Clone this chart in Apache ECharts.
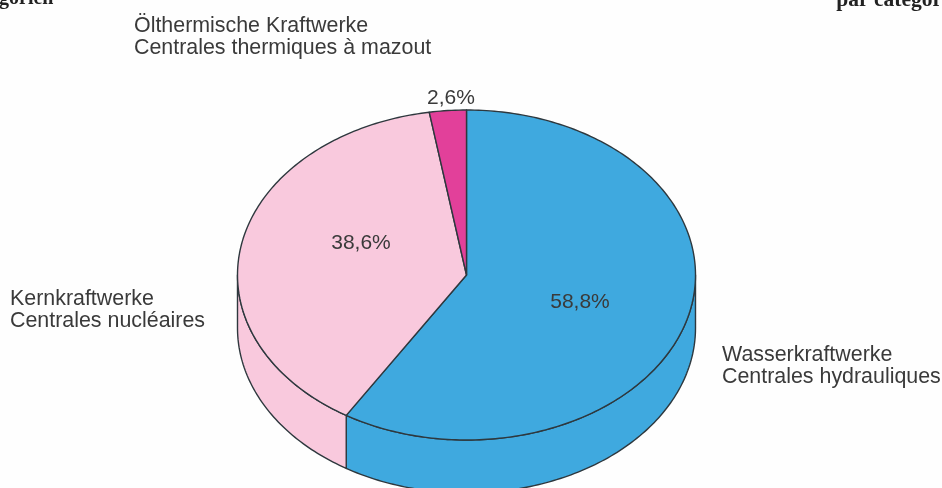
<!DOCTYPE html>
<html>
<head>
<meta charset="utf-8">
<title>Kraftwerke</title>
<script src="https://cdn.jsdelivr.net/npm/echarts@6/dist/echarts.min.js"></script>
<style>
    html, body { margin: 0; padding: 0; background: #fefefe; }
    #main { width: 942px; height: 488px; }
</style>
</head>
<body>
<div id="main"></div>
<script>
const namesDe = ['Wasserkraftwerke', 'Kernkraftwerke', 'Ölthermische Kraftwerke'];
const namesFr = ['Centrales hydrauliques', 'Centrales nucléaires', 'Centrales thermiques à mazout'];
const shares = [58.8, 38.6, 2.6];

const colors = ['#3fa9df', '#f9c9dd', '#e2409a'];
const lineColor = '#2e383e';
const textColor = '#3a3a3a';
const sansFont = '"Liberation Sans", Arial, sans-serif';

// flat disc geometry
const cx = 466.5;
const cy = 275;
const rx = 229;
const ry = 165;
const depth = 53;

const percentPos = [[580, 302], [361, 243], [451, 98]];
const namePos = [[722, 366], [10, 310], [134, 37]];

// angle is clockwise from 12 o'clock, in degrees
function rimPoint(angle, drop) {
    const a = angle * Math.PI / 180;
    return [cx + rx * Math.sin(a), cy - ry * Math.cos(a) + drop];
}

function arc(from, to, drop) {
    const pts = [];
    const steps = Math.max(2, Math.ceil(Math.abs(to - from)));
    for (let i = 0; i <= steps; i++) {
        pts.push(rimPoint(from + (to - from) * i / steps, drop));
    }
    return pts;
}

function renderSlice(params, api) {
    const i = params.dataIndex;
    let before = 0;
    for (let k = 0; k < i; k++) {
        before += shares[k];
    }
    const total = shares.reduce((a, b) => a + b, 0);
    const start = before / total * 360;
    const end = (before + api.value(0)) / total * 360;
    const sliceStyle = { fill: colors[i], stroke: lineColor, lineWidth: 1.4, lineJoin: 'round' };
    const children = [];

    // only the front half of the rim shows a wall
    const wallFrom = Math.max(start, 90);
    const wallTo = Math.min(end, 270);
    if (wallTo > wallFrom) {
        children.push({
            type: 'polygon',
            shape: { points: arc(wallFrom, wallTo, 0).concat(arc(wallTo, wallFrom, depth)) },
            style: sliceStyle
        });
    }

    children.push({
        type: 'polygon',
        shape: { points: [[cx, cy]].concat(arc(start, end, 0)) },
        style: sliceStyle
    });

    children.push({
        type: 'text',
        style: {
            x: percentPos[i][0],
            y: percentPos[i][1],
            text: api.value(0).toFixed(1).replace('.', ',') + '%',
            fill: textColor,
            font: '21px ' + sansFont,
            align: 'center',
            verticalAlign: 'middle'
        }
    });

    children.push({
        type: 'text',
        style: {
            x: namePos[i][0],
            y: namePos[i][1],
            text: namesDe[i] + '\n' + namesFr[i],
            fill: textColor,
            font: '21.4px ' + sansFont,
            lineHeight: 21.5,
            align: 'left',
            verticalAlign: 'middle'
        }
    });

    return { type: 'group', children: children };
}

const myChart = echarts.init(document.getElementById('main'));
myChart.setOption({
    animation: false,
    backgroundColor: '#fefefe',
    series: [{
        type: 'custom',
        coordinateSystem: 'none',
        renderItem: renderSlice,
        data: shares.map((v) => [v]),
        silent: true
    }],
    // running heads cut off by the scan
    graphic: [
        {
            type: 'text',
            style: { x: -1, y: -11, text: 'gorien', fill: '#222', font: 'bold 20px "Liberation Serif", serif' }
        },
        {
            type: 'text',
            style: { x: 942, y: -11, text: 'par categor', fill: '#222', align: 'right', font: 'bold 21.5px "Liberation Serif", serif' }
        }
    ]
});
</script>
</body>
</html>
